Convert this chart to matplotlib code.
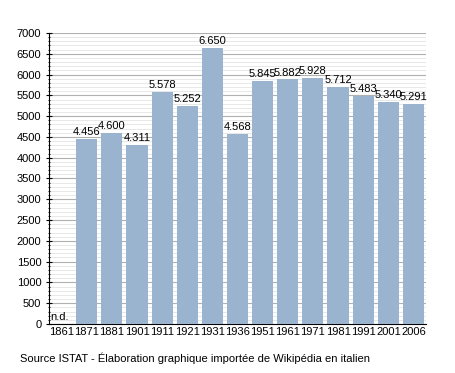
import numpy as np
import matplotlib.pyplot as plt
from matplotlib.ticker import MultipleLocator

plt.rcParams['font.family'] = 'Liberation Sans'

years = ['1861', '1871', '1881', '1901', '1911', '1921', '1931', '1936',
         '1951', '1961', '1971', '1981', '1991', '2001', '2006']
population = [0, 4456, 4600, 4311, 5578, 5252, 6650, 4568,
              5845, 5882, 5928, 5712, 5483, 5340, 5291]
labels = ['n.d.', '4.456', '4.600', '4.311', '5.578', '5.252', '6.650', '4.568',
          '5.845', '5.882', '5.928', '5.712', '5.483', '5.340', '5.291']

fig = plt.figure(figsize=(4.55, 3.73), dpi=100)
ax = fig.add_axes([0.1077, 0.1314, 0.8286, 0.7801])

x = np.arange(len(years))
ax.bar(x, population, width=0.84, color='#9ab3ce', zorder=3)

for i, (v, t) in enumerate(zip(population, labels)):
    if t == 'n.d.':
        ax.text(i - 0.45, 40, t, ha='left', va='bottom', fontsize=8, zorder=4)
    else:
        ax.text(i, v + 40, t, ha='center', va='bottom', fontsize=8, zorder=4)

ax.set_xlim(-0.5, len(years) - 0.5)
ax.set_ylim(0, 7000)
ax.yaxis.set_major_locator(MultipleLocator(500))
ax.yaxis.set_minor_locator(MultipleLocator(100))
ax.grid(axis='y', which='major', color='#b0b0b0', linewidth=0.8, zorder=0)
ax.grid(axis='y', which='minor', color='#e4e4e4', linewidth=0.6, zorder=0)

ax.set_xticks(x)
ax.set_xticklabels(years, fontsize=8)
ax.tick_params(axis='x', length=0, pad=2)
ax.tick_params(axis='y', which='major', labelsize=8, length=4, direction='inout')
ax.tick_params(axis='y', which='minor', length=2, direction='inout')

for s in ['top', 'right']:
    ax.spines[s].set_visible(False)
ax.spines['left'].set_color('black')
ax.spines['bottom'].set_color('black')

fig.text(0.044, 0.025, 'Source ISTAT - Élaboration graphique importée de Wikipédia en italien',
         fontsize=8, ha='left', va='bottom')

fig.savefig('out.png', dpi=100)
